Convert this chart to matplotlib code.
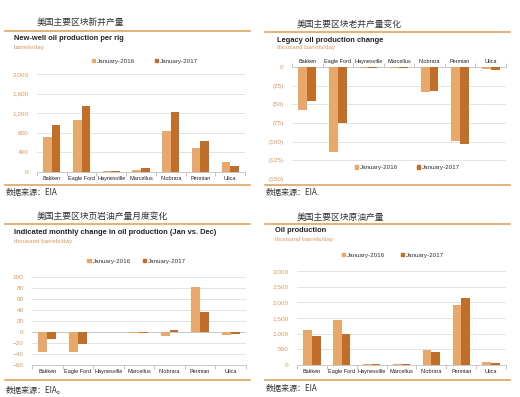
import numpy as np
import matplotlib

matplotlib.use('Agg')
import matplotlib.pyplot as plt
from matplotlib.patches import Patch
from matplotlib.ticker import FuncFormatter

plt.rcParams['font.family'] = ['Liberation Sans', 'Noto Sans CJK SC', 'DejaVu Sans']

# data
regions = ['Bakken', 'Eagle Ford', 'Haynesville', 'Marcellus', 'Niobrara', 'Permian', 'Utica']
series_names = ['January-2016', 'January-2017']

newwell_2016 = [705, 1058, 20, 47, 840, 481, 203]
newwell_2017 = [963, 1342, 25, 75, 1220, 637, 129]

legacy_2016 = [-57, -114, -1, -1.5, -33, -99, -3]
legacy_2017 = [-46, -75, -1, -2, -31.5, -103, -4]

monthly_2016 = [-36, -36, 0, -1, -7, 82, -5]
monthly_2017 = [-12, -22, 0, -1, 3, 36, -3]

oilprod_2016 = [1124, 1431, 42, 30, 466, 1919, 85]
oilprod_2017 = [912, 986, 32, 25, 403, 2131, 53]

LIGHT = '#E8A86C'
DARK = '#C06F2A'
ORANGE_TXT = '#D8995E'
LINE_C = '#DDA55E'
GRID_C = '#E3E3E3'

W, H = 520, 397
fig = plt.figure(figsize=(W / 100, H / 100), dpi=100)


def px_axes(x0, y0, x1, y1):
    return fig.add_axes([x0 / W, 1 - y1 / H, (x1 - x0) / W, (y1 - y0) / H])


def ftext(x, y, s, **kw):
    fig.text(x / W, 1 - y / H, s, **kw)


def hline(x0, x1, y, lw=1.2):
    fig.add_artist(plt.Line2D([x0 / W, x1 / W], [1 - y / H, 1 - y / H], color=LINE_C, lw=lw))


def frame(xoff, yoff, caption, title, units, source, cap_y, line_y, title_y, unit_y, bot_y, src_y):
    ftext(xoff + 37, cap_y, caption, fontsize=6.3, color='#333333', va='center',
          family=['Noto Sans CJK SC', 'DejaVu Sans'])
    hline(xoff + 5, xoff + 250, line_y)
    ftext(xoff + title[1], title_y, title[0], fontsize=5.4, fontweight='bold', color='#222222', va='center')
    ftext(xoff + title[1], unit_y, units, fontsize=4.5, color=ORANGE_TXT, va='center')
    hline(xoff + 5, xoff + 250, bot_y)
    ftext(xoff + 6, src_y, source, fontsize=5.8, color='#333333', va='center', style='italic',
          family=['Noto Sans CJK SC', 'DejaVu Sans'])


def bars(ax, v1, v2):
    x = np.arange(len(regions))
    w = 0.29
    ax.bar(x - w / 2, v1, w, color=LIGHT, zorder=3)
    ax.bar(x + w / 2, v2, w, color=DARK, zorder=3)
    ax.set_xlim(-0.5, len(regions) - 0.5)
    ax.set_xticks(x)
    ax.set_xticklabels(regions, fontsize=4.0, color='#222222')
    ax.set_xticks(np.arange(len(regions) + 1) - 0.5, minor=True)
    ax.tick_params(axis='x', which='major', length=0, pad=3)
    ax.tick_params(axis='x', which='minor', length=3, color='#BBBBBB')
    ax.tick_params(axis='y', length=0, labelsize=4.6, labelcolor=ORANGE_TXT, pad=6)
    ax.grid(axis='y', color=GRID_C, lw=0.7, zorder=0)
    for s in ['left', 'right', 'top']:
        ax.spines[s].set_visible(False)
    ax.spines['bottom'].set_color('#C8C8C8')
    ax.spines['bottom'].set_linewidth(0.7)


def legend(ax, anchor, spacing):
    handles = [Patch(color=LIGHT), Patch(color=DARK)]
    ax.legend(handles, series_names, loc='center', bbox_to_anchor=anchor, ncol=2, frameon=False,
              fontsize=4.5, handlelength=0.5, handleheight=0.5, handletextpad=0.3,
              columnspacing=spacing, labelcolor='#333333')


thousands = FuncFormatter(lambda v, p: f'{v:,.0f}')

# panel 1
frame(0, 0, '美国主要区块新井产量', ('New-well oil production per rig', 14), 'barrels/day',
      '数据来源：EIA', 22, 31, 39, 47, 185, 193)
ax1 = px_axes(37, 74, 245, 172)
bars(ax1, newwell_2016, newwell_2017)
ax1.set_ylim(0, 2000)
ax1.set_yticks(np.arange(0, 2001, 400))
ax1.yaxis.set_major_formatter(thousands)
legend(ax1, (0.52, 1.13), 3.2)

# panel 2
frame(260, 0, '美国主要区块老井产量变化', ('Legacy oil production change', 17), 'thousand barrels/day',
      '数据来源：EIA.', 24, 32, 40, 48, 185, 193)
ax2 = px_axes(292, 67, 506, 179)
bars(ax2, legacy_2016, legacy_2017)
ax2.set_ylim(-150, 0)
ax2.set_yticks(np.arange(-150, 1, 25))
ax2.yaxis.set_major_formatter(FuncFormatter(lambda v, p: f'({abs(v):.0f})' if v < 0 else '0'))
ax2.xaxis.tick_top()
ax2.tick_params(axis='x', which='both', top=True, bottom=False)
ax2.tick_params(axis='x', which='major', length=0, pad=2)
ax2.spines['bottom'].set_visible(False)
ax2.spines['top'].set_visible(True)
ax2.spines['top'].set_color('#C8C8C8')
ax2.spines['top'].set_linewidth(0.7)
legend(ax2, (0.54, 0.1), 3.0)

# panel 3
frame(0, 200, '美国主要区块页岩油产量月度变化', ('Indicated monthly change in oil production (Jan vs. Dec)', 14),
      'thousand barrels/day', '数据来源：EIA。', 216, 224, 232, 242, 380, 391)
ax3 = px_axes(32, 277, 246, 365)
bars(ax3, monthly_2016, monthly_2017)
ax3.set_ylim(-60, 100)
ax3.set_yticks(np.arange(-60, 101, 20))
ax3.axhline(0, color='#C8C8C8', lw=0.7, zorder=2)
legend(ax3, (0.49, 1.18), 2.0)

# panel 4
frame(260, 200, '美国主要区块原油产量', ('Oil production', 15), 'thousand barrels/day',
      '数据来源：EIA', 217, 224, 231, 239, 380, 389)
ax4 = px_axes(297, 271, 506, 365)
bars(ax4, oilprod_2016, oilprod_2017)
ax4.set_ylim(0, 3000)
ax4.set_yticks(np.arange(0, 3001, 500))
ax4.yaxis.set_major_formatter(thousands)
legend(ax4, (0.46, 1.17), 2.6)

fig.savefig('out.png', dpi=100)
